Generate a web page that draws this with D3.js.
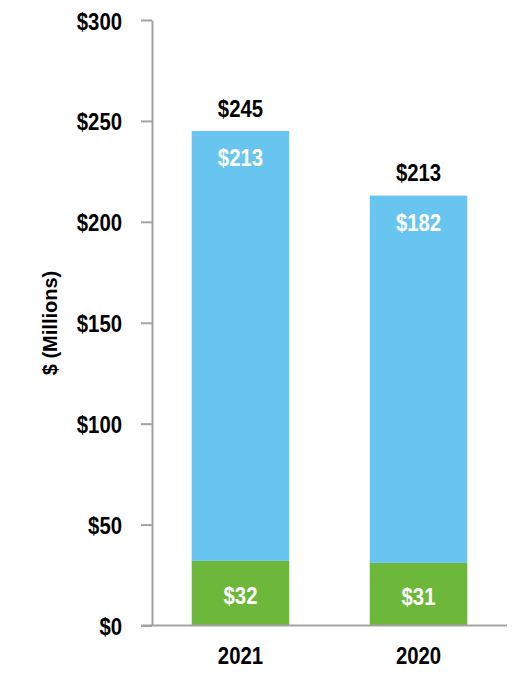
<!DOCTYPE html>
<html>
<head>
<meta charset="utf-8">
<script src="https://cdn.jsdelivr.net/npm/d3@7"></script>
<style>
  html, body { margin: 0; padding: 0; background: #fff; }
  text { font-family: "Liberation Sans", Arial, sans-serif; font-weight: bold; }
</style>
</head>
<body>
<svg id="chart" width="526" height="690"></svg>
<script>
const categories = ["2021", "2020"];
const segmentOther = [32, 31];      // green bottom segment
const segmentMain = [213, 182];     // blue top segment
const totals = [245, 213];
const yTicks = [0, 50, 100, 150, 200, 250, 300];
const yTitle = "$ (Millions)";

const svg = d3.select("#chart");
const x0 = 152, x1 = 507, yTop = 20, yBottom = 625.5;
const FS = 24.5, SX = 0.83;

const x = d3.scaleBand().domain(categories).range([x0, x1]).paddingInner(0.452).paddingOuter(0.223);
const y = d3.scaleLinear().domain([0, 300]).range([yBottom, yTop]);

const axisColor = "#a3a3a3";

function narrowText(sel, xf, yf, anchor, fill, txt) {
  sel.attr("transform", (d, i) => `translate(${xf(d, i)},${yf(d, i)}) scale(${SX},1)`)
    .attr("text-anchor", anchor).attr("font-size", FS).attr("fill", fill).text(txt);
}

// bars
const data = categories.map((c, i) => ({ c, a: segmentOther[i], b: segmentMain[i], t: totals[i] }));
const g = svg.append("g");
g.selectAll("rect.green").data(data).enter().append("rect")
  .attr("x", d => x(d.c)).attr("width", x.bandwidth())
  .attr("y", d => y(d.a)).attr("height", d => y(0) - y(d.a))
  .attr("fill", "#6db83a");
g.selectAll("rect.blue").data(data).enter().append("rect")
  .attr("x", d => x(d.c)).attr("width", x.bandwidth())
  .attr("y", d => y(d.a + d.b)).attr("height", d => y(d.a) - y(d.a + d.b))
  .attr("fill", "#68c5f0");

// y axis (lines from d3 axis, labels drawn narrow)
const yAxis = d3.axisLeft(y).tickValues(yTicks).tickFormat(d => "$" + d).tickSize(11).tickSizeOuter(0).tickPadding(8);
const ya = svg.append("g").attr("transform", `translate(${x0},0)`).call(yAxis);
ya.select(".domain").attr("stroke", axisColor).attr("stroke-width", 2);
ya.selectAll(".tick line").attr("stroke", axisColor).attr("stroke-width", 2);
ya.selectAll(".tick text").attr("x", null).attr("dy", null)
  .attr("transform", `translate(-30,9) scale(${SX},1)`)
  .attr("font-size", FS).attr("fill", "#000")
  .attr("font-family", "'Liberation Sans', Arial, sans-serif").attr("font-weight", "bold");

// baseline
svg.append("line").attr("x1", x0 - 11).attr("x2", x1).attr("y1", y(0)).attr("y2", y(0))
  .attr("stroke", axisColor).attr("stroke-width", 2);

const cx = d => x(d.c) + x.bandwidth() / 2;

// x labels
narrowText(svg.selectAll("text.xl").data(data).enter().append("text"),
  cx, () => 664, "middle", "#000", d => d.c);

// totals
narrowText(svg.selectAll("text.tot").data(data).enter().append("text"),
  cx, d => y(d.t) - 14.5, "middle", "#000", d => "$" + d.t);

// blue labels
narrowText(svg.selectAll("text.bl").data(data).enter().append("text"),
  cx, d => y(d.a + d.b) + 35, "middle", "#fff", d => "$" + d.b);

// green labels
narrowText(svg.selectAll("text.gl").data(data).enter().append("text"),
  cx, d => (y(0) + y(d.a)) / 2 + 10.7, "middle", "#fff", d => "$" + d.a);

// y title
svg.append("text").attr("transform", `translate(56.5, 323) rotate(-90)`)
  .attr("text-anchor", "middle").attr("font-size", 20).attr("fill", "#000").text(yTitle);
</script>
</body>
</html>
